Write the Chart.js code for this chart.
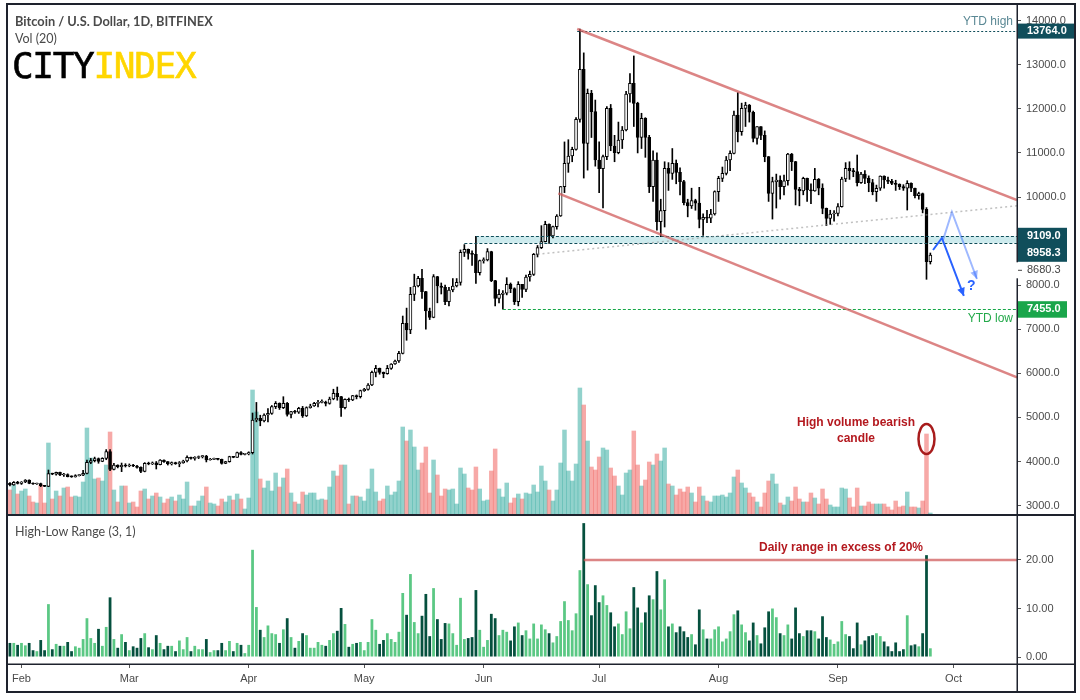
<!DOCTYPE html>
<html>
<head>
<meta charset="utf-8">
<title>Bitcoin / U.S. Dollar, 1D</title>
<script src="https://cdn.jsdelivr.net/npm/chart.js@4.4.1/dist/chart.umd.min.js"></script>
<style>
  html, body { margin: 0; padding: 0; background: #fff; }
  #wrap { position: relative; width: 1080px; height: 700px; overflow: hidden; font-family: "Liberation Sans", Arial, sans-serif; }
  #frame { position: absolute; left: 6px; top: 3px; width: 1070px; height: 690px; border: 2px solid #1e222d; box-sizing: border-box; }
  #sep { position: absolute; left: 8px; top: 514px; width: 1066px; height: 2px; background: #1e222d; }
  #main { position: absolute; left: 8px; top: 5px; }
  #lower { position: absolute; left: 8px; top: 516px; }
  .txt { position: absolute; white-space: nowrap; font-family: Lato, "Liberation Sans", sans-serif; color: #4a4a4a; }
  #title { left: 15px; top: 13px; font-size: 12.8px; font-weight: 700; }
  #vol { left: 15px; top: 31px; font-size: 12.5px; }
  #hl { left: 15px; top: 524px; font-size: 12.5px; }
  #logo { position: absolute; left: 12px; top: 46px; font-family: "DejaVu Sans Mono", monospace; font-weight: 400; font-size: 36px; letter-spacing: -1.3px; line-height: 40px; -webkit-text-stroke: 0.6px; }
  #logo .a { color: #000; }
  #logo .b { color: #ffd600; }
</style>
</head>
<body>
<div id="wrap">
  <div id="frame"></div>
  <canvas id="main" width="1066" height="509"></canvas>
  <div id="sep"></div>
  <canvas id="lower" width="1066" height="175"></canvas>
  <div class="txt" id="title">Bitcoin / U.S. Dollar, 1D, BITFINEX</div>
  <div class="txt" id="vol">Vol (20)</div>
  <div id="logo"><span class="a">CITY</span><span class="b">INDEX</span></div>
  <div class="txt" id="hl">High-Low Range (3, 1)</div>
</div>
<script>
// daily candles, 29 Jan 2019 -> 25 Sep 2019
const opens = [
  3505,3467,3528,3505,3535,3581,3505,3490,3500,3452,
  3437,3724,3712,3754,3694,3705,3656,3650,3679,3690,
  3732,3981,4019,4065,4004,4072,4223,3823,3921,3883,
  3913,3898,3921,3898,3868,3775,3959,3944,3970,3928,
  4034,3996,3944,3974,3950,3970,4012,4095,4072,4090,
  4110,4125,4034,4050,4065,4049,3959,3996,4110,4095,
  4201,4163,4170,4201,4942,4980,4920,5055,5090,5244,
  5320,5221,5320,5070,5131,5120,5206,5032,5221,5259,
  5320,5342,5350,5320,5418,5546,5471,5221,5410,5395,
  5493,5471,5607,5637,5735,6023,6114,6023,5995,6114,
  6212,6280,6454,7134,6983,7792,7981,8155,7853,7414,
  7270,8193,7981,7951,7626,7891,7981,8065,8745,8813,
  8722,8700,8284,8556,8571,8760,8102,7701,7792,7820,
  8019,7921,7626,8019,7906,8186,8246,8700,8851,8987,
  9380,9116,9328,9570,10235,10764,10931,11082,11763,12897,
  11218,12352,11936,10840,10643,10916,12012,11158,11006,11294,
  11520,12337,12579,12126,11354,11785,11354,10235,10840,9441,
  9690,10651,10538,10764,10560,10349,9872,9800,9917,9860,
  9494,9540,9520,9615,10122,10424,10537,10840,10991,11861,
  11483,12012,12088,11922,11332,11596,11400,10916,10084,10349,
  10386,10235,10370,10976,10802,10175,10140,10424,10160,10140,
  10400,10200,9744,9517,9615,9630,9781,10409,10651,10598,
  10575,10326,10522,10424,10326,10122,10198,10477,10386,10356,
  10311,10288,10235,10198,10311,10198,10030,10080,9720,8534
];
const highs = [
  3520,3545,3550,3545,3590,3585,3515,3510,3510,3460,
  3807,3735,3760,3760,3730,3720,3675,3700,3705,3800,
  4030,4070,4100,4080,4085,4270,4270,3960,3925,3965,
  3950,3945,3935,3915,3880,3975,3985,3990,4000,4045,
  4040,4000,3990,3985,4000,4030,4130,4100,4110,4125,
  4140,4140,4070,4075,4070,4055,4005,4120,4115,4215,
  4225,4180,4220,5100,5340,5050,5080,5200,5270,5360,
  5330,5470,5340,5140,5160,5230,5250,5240,5300,5340,
  5390,5400,5370,5460,5640,5690,5480,5420,5440,5500,
  5510,5620,5660,5770,6050,6180,6120,6030,6180,6220,
  6300,6500,7300,7480,7950,8250,8200,8360,7860,7480,
  8240,8200,8050,8000,7950,8150,8150,8800,8920,8820,
  8780,9109,8570,8620,8830,8770,8110,7900,7880,8170,
  8050,7940,8080,8020,8230,8320,8720,8900,9350,9450,
  9390,9340,9600,10240,11250,11300,11130,11800,13812,13270,
  12450,12420,12200,11250,10950,12050,12100,11400,11700,11600,
  12400,12800,13200,12150,11900,11800,11400,11050,11000,9950,
  10800,10780,11100,10840,10660,10380,9950,10200,9950,10220,
  9620,9700,9720,10140,10470,10680,10920,11050,11950,12368,
  12130,12150,12100,11950,11600,11600,11500,10920,10450,10520,
  10480,10500,10990,10990,10810,10220,10450,10430,10300,10650,
  10420,10300,9750,9700,9690,9850,10450,10780,10800,10650,
  10953,10560,10600,10480,10400,10270,10480,10480,10450,10400,
  10380,10300,10280,10370,10320,10200,10110,10090,9760,8730
];
const lows = [
  3445,3460,3490,3480,3520,3495,3480,3480,3430,3430,
  3430,3700,3690,3680,3660,3650,3640,3645,3670,3680,
  3720,3950,3990,3960,3995,4040,3790,3810,3855,3770,
  3875,3880,3880,3850,3745,3765,3925,3930,3830,3920,
  3980,3920,3920,3935,3880,3960,3990,4055,4030,4065,
  4080,3990,4030,4040,4035,3940,3950,3985,4085,4090,
  4150,4150,4150,4170,4900,4810,4900,4900,5070,5200,
  5180,5200,5030,4990,5090,5090,5000,5020,5210,5250,
  5240,5330,5260,5300,5400,5390,5020,5190,5360,5380,
  5420,5440,5590,5620,5720,5920,5980,5900,5980,6090,
  6200,6250,6440,6750,6900,7650,7960,7700,7000,7220,
  7260,7600,7800,7560,7530,7850,7960,8000,8650,8590,
  8450,8040,8230,8500,8550,8080,7530,7600,7455,7780,
  7830,7560,7530,7720,7850,8090,8220,8640,8830,8980,
  8950,9070,9270,9560,10100,10560,10800,11060,11700,10430,
  10610,11350,10700,10100,9750,10850,11050,10800,10980,11100,
  11500,12150,11600,11000,11100,10900,10100,9900,9250,9100,
  9320,10150,10400,10300,10050,9820,9550,9740,9700,9300,
  9130,9420,9420,9590,9900,10350,10500,10600,10980,11250,
  11400,11600,11700,11250,11200,11300,10800,9900,9500,9750,
  9950,10050,10270,10600,9820,9800,10050,9900,9850,10130,
  10050,9620,9350,9380,9450,9570,9770,10350,10400,10460,
  10250,10310,10300,10120,10050,9900,10150,10200,10300,10280,
  10150,10170,10150,9705,10120,9980,9950,9640,8133,8480
];
const closes = [
  3467,3528,3505,3535,3581,3505,3490,3500,3452,3437,
  3724,3712,3754,3694,3705,3656,3650,3679,3690,3732,
  3981,4019,4065,4004,4072,4223,3823,3921,3883,3913,
  3898,3921,3898,3868,3775,3959,3944,3970,3928,4034,
  3996,3944,3974,3950,3970,4012,4095,4072,4090,4110,
  4125,4034,4050,4065,4049,3959,3996,4110,4095,4201,
  4163,4170,4201,4942,4980,4920,5055,5090,5244,5320,
  5221,5320,5070,5131,5120,5206,5032,5221,5259,5320,
  5342,5350,5320,5418,5546,5471,5221,5410,5395,5493,
  5471,5607,5637,5735,6023,6114,6023,5995,6114,6212,
  6280,6454,7134,6983,7792,7981,8155,7853,7414,7270,
  8193,7981,7951,7626,7891,7981,8065,8745,8813,8722,
  8700,8284,8556,8571,8760,8102,7701,7792,7820,8019,
  7921,7626,8019,7906,8186,8246,8700,8851,8987,9380,
  9116,9328,9570,10235,10764,10931,11082,11763,12897,11218,
  12352,11936,10840,10643,10916,12012,11158,11006,11294,11520,
  12337,12579,12126,11354,11785,11354,10235,10840,9441,9690,
  10651,10538,10764,10560,10349,9872,9800,9917,9860,9494,
  9540,9520,9615,10122,10424,10537,10840,10991,11861,11483,
  12012,12088,11922,11332,11596,11400,10916,10084,10349,10386,
  10235,10370,10976,10802,10175,10140,10424,10160,10140,10400,
  10200,9744,9517,9615,9630,9781,10409,10651,10598,10575,
  10326,10522,10424,10326,10122,10198,10477,10386,10356,10311,
  10288,10235,10198,10311,10198,10030,10080,9720,8534,8680.3
];
// volume (relative units)
const volumes = [
  24,29,20,23,25,18,12,11,29,11,
  71,15,23,18,26,27,17,18,17,32,
  86,56,35,36,33,49,82,24,12,28,
  28,11,12,7,23,25,15,18,21,17,
  11,15,17,13,19,15,32,8,8,13,
  18,27,11,10,8,15,12,18,14,20,
  15,5,16,124,102,35,26,33,23,41,
  27,36,45,21,12,10,22,19,21,21,
  14,15,14,27,43,38,49,49,10,18,
  18,17,13,25,45,22,13,15,28,19,
  22,33,87,73,84,67,44,51,67,21,
  54,39,18,25,24,25,10,46,40,26,
  24,47,25,13,14,43,65,25,17,31,
  11,16,20,15,21,20,29,22,48,33,
  24,13,24,51,84,43,33,50,126,109,
  73,47,44,57,66,64,46,38,28,19,
  41,44,83,49,28,34,52,49,60,53,
  66,30,28,19,25,22,27,21,12,27,
  18,13,12,18,18,19,17,21,37,44,
  31,26,21,17,12,7,21,33,40,30,
  11,9,17,13,27,15,12,12,21,16,
  10,25,15,9,7,7,26,25,16,7,
  26,8,8,12,10,10,10,10,7,4,
  13,7,8,22,7,7,6,13,80,1
];
// High-Low Range (3, 1), percent
const ranges = [
  2.9,2.9,2.5,2.9,2.4,2.9,1.4,1.2,3.5,1.4,
  10.9,1.6,2.7,2.3,2.3,3.1,1.2,2.2,1.9,3.7,
  8.0,3.9,2.9,5.8,2.3,6.2,12.3,3.7,1.9,4.7,
  3.1,1.4,2.2,1.9,3.9,4.9,2.0,1.6,4.5,2.9,
  1.6,2.3,2.3,1.2,3.4,1.6,4.1,1.2,2.3,1.6,
  1.6,3.7,1.0,1.4,1.4,2.9,1.4,3.3,1.2,2.9,
  2.5,0.8,2.5,22.1,10.3,5.6,4.1,6.5,4.9,4.7,
  2.9,5.7,8.0,4.1,1.9,3.3,4.9,4.5,1.9,1.9,
  3.1,2.5,2.3,3.5,4.9,5.4,10.1,6.8,2.1,2.7,
  2.9,3.1,1.4,3.1,7.8,5.6,2.7,3.5,4.9,3.7,
  3.1,5.2,13.2,8.7,17.1,7.2,4.9,8.5,13.0,4.3,
  14.2,7.8,3.7,7.0,6.9,4.9,2.5,12.2,3.7,3.9,
  4.1,13.8,5.6,2.1,3.5,8.9,8.0,4.5,5.6,5.2,
  3.4,6.3,7.1,4.5,5.5,3.8,6.9,3.8,6.7,5.7,
  4.9,3.0,4.3,7.4,11.5,7.6,5.5,9.0,17.9,27.6,
  15.0,8.6,14.8,11.3,12.7,10.7,9.2,6.3,6.9,4.7,
  9.4,5.9,14.4,10.2,7.1,9.2,12.7,11.9,17.7,9.8,
  16.0,6.3,6.9,5.1,6.3,5.3,4.1,4.7,2.6,9.8,
  5.7,3.8,3.8,5.7,6.3,3.2,3.8,5.3,8.8,9.6,
  6.7,5.1,3.4,7.1,4.5,2.8,6.1,9.4,10.0,8.2,
  4.9,4.5,6.7,3.8,10.2,4.9,4.3,5.5,5.5,5.3,
  3.8,8.4,4.1,3.6,2.7,3.2,7.4,4.7,4.3,1.8,
  7.1,2.6,3.4,4.3,4.5,4.9,4.3,3.2,2.2,1.2,
  3.0,1.2,1.6,8.6,2.4,2.6,2.2,4.9,21.0,1.8
];

// axis ticks
const priceTicks = [3000,4000,5000,6000,7000,8000,9000,10000,11000,12000,13000,14000];
const rangeTicks = [0, 10, 20];
const monthNames = ['Jan','Feb','Mar','Apr','May','Jun','Jul','Aug','Sep','Oct','Nov','Dec'];

// drawings on the chart, as [day index, price]
const channelUpper = [[147.3, 13812], [261.5, 9930]];
const channelLower = [[142.4, 10084], [261.5, 5910]];
const trendDotted = [[137, 8700], [261.5, 9803]];
const arrowDark = [[239.7, 8798], [242.0, 9070], [247.7, 7755]];
const arrowLight = [[242.3, 9025], [244.6, 9660], [251.1, 8140]];
const questionMark = [249.6, 7975];
const zoneTop = 9109.0, zoneBottom = 8958.3;
const ytdHigh = 13764.0, ytdLow = 7455.0, lastPrice = 8680.3;
const rangeLimit = 20;

// 29 Jan 2019 plus empty days on the right
const firstDay = Date.UTC(2019, 0, 29);
const dayCount = 262;
const dates = Array.from({ length: dayCount }, (_, i) => new Date(firstDay + i * 86400000));
const labels = dates.map(d => d.toISOString().slice(0, 10));
const isMonthStart = i => dates[i] && dates[i].getUTCDate() === 1;

const upColor = (i) => closes[i] >= opens[i];
const dark = '#1e222d';
const redText = '#b4191f';
const channelColor = 'rgba(206,86,86,0.72)';

function polyline(ctx, x, y, pts) {
    ctx.beginPath();
    pts.forEach((p, k) => {
        const px = x.getPixelForValue(p[0]), py = y.getPixelForValue(p[1]);
        if (k === 0) ctx.moveTo(px, py); else ctx.lineTo(px, py);
    });
    ctx.stroke();
}

function arrowHead(ctx, x1, y1, x2, y2, size) {
    const ang = Math.atan2(y2 - y1, x2 - x1);
    ctx.beginPath();
    ctx.moveTo(x2, y2);
    ctx.lineTo(x2 - size * Math.cos(ang - 0.45), y2 - size * Math.sin(ang - 0.45));
    ctx.lineTo(x2 - size * Math.cos(ang + 0.45), y2 - size * Math.sin(ang + 0.45));
    ctx.closePath();
    ctx.fill();
}

function drawArrow(ctx, x, y, pts, color) {
    ctx.strokeStyle = color;
    ctx.fillStyle = color;
    ctx.lineWidth = 2;
    ctx.setLineDash([]);
    polyline(ctx, x, y, pts);
    const a = pts[pts.length - 2], b = pts[pts.length - 1];
    arrowHead(ctx, x.getPixelForValue(a[0]), y.getPixelForValue(a[1]),
        x.getPixelForValue(b[0]), y.getPixelForValue(b[1]), 9);
}

function hLine(ctx, x, y, fromIdx, value, right, color, dash) {
    const py = Math.round(y.getPixelForValue(value)) + 0.5;
    ctx.strokeStyle = color;
    ctx.lineWidth = 1;
    ctx.setLineDash(dash);
    ctx.beginPath();
    ctx.moveTo(x.getPixelForValue(fromIdx), py);
    ctx.lineTo(right, py);
    ctx.stroke();
}

const mainDecor = {
    id: 'mainDecor',
    beforeDatasetsDraw(chart) {
        const { ctx, chartArea: a, scales: { x, y } } = chart;
        ctx.save();
        const x0 = x.getPixelForValue(121);
        const yt = y.getPixelForValue(zoneTop), yb = y.getPixelForValue(zoneBottom);
        ctx.fillStyle = 'rgba(0,150,165,0.2)';
        ctx.fillRect(x0, yt, a.right - x0, yb - yt);
        ctx.restore();
    },
    afterDatasetsDraw(chart) {
        const { ctx, chartArea: a, scales: { x, y, vol } } = chart;
        ctx.save();
        ctx.beginPath();
        ctx.rect(a.left, a.top, a.right - a.left, a.bottom - a.top);
        ctx.clip();

        hLine(ctx, x, y, 121, zoneTop, a.right, '#0f4d5a', [3, 2]);
        hLine(ctx, x, y, 118, zoneBottom, a.right, '#0f4d5a', [3, 2]);
        hLine(ctx, x, y, 147.3, ytdHigh, a.right, '#0f4d5a', [2, 2]);
        hLine(ctx, x, y, 128, ytdLow, a.right, '#16a847', [3, 2]);

        ctx.setLineDash([2, 3]);
        ctx.strokeStyle = 'rgba(150,150,150,0.6)';
        ctx.lineWidth = 1.5;
        polyline(ctx, x, y, trendDotted);

        ctx.setLineDash([]);
        ctx.strokeStyle = channelColor;
        ctx.lineWidth = 2.5;
        polyline(ctx, x, y, channelUpper);
        polyline(ctx, x, y, channelLower);

        drawArrow(ctx, x, y, arrowLight, 'rgba(41,98,255,0.45)');
        drawArrow(ctx, x, y, arrowDark, '#2962ff');

        ctx.fillStyle = '#2962ff';
        ctx.font = 'bold 14px "Liberation Sans", Arial';
        ctx.textAlign = 'center';
        ctx.textBaseline = 'middle';
        ctx.fillText('?', x.getPixelForValue(questionMark[0]), y.getPixelForValue(questionMark[1]));

        // YTD texts
        ctx.font = '12px "Liberation Sans", Arial';
        ctx.textAlign = 'right';
        ctx.fillStyle = '#5a8894';
        ctx.fillText('YTD high', a.right - 4, y.getPixelForValue(ytdHigh) - 9);
        ctx.fillStyle = '#23a94a';
        ctx.fillText('YTD low', a.right - 4, y.getPixelForValue(ytdLow) + 9);

        // volume note
        ctx.fillStyle = redText;
        ctx.font = 'bold 12px "Liberation Sans", Arial';
        ctx.textAlign = 'center';
        ctx.fillText('High volume bearish', x.getPixelForValue(219.7), vol.getPixelForValue(91));
        ctx.fillText('candle', x.getPixelForValue(219.7), vol.getPixelForValue(75));
        ctx.strokeStyle = '#a81c1c';
        ctx.lineWidth = 2.5;
        ctx.beginPath();
        ctx.ellipse(x.getPixelForValue(238), vol.getPixelForValue(75), 8, 15, 0, 0, Math.PI * 2);
        ctx.stroke();
        ctx.restore();
    },
    afterDraw(chart) {
        const { ctx, chartArea: a, scales: { y } } = chart;
        ctx.save();
        ctx.fillStyle = dark;
        ctx.fillRect(a.right - 0.5, 0, 1.5, chart.height);

        ctx.font = 'bold 11px "Liberation Sans", Arial';
        ctx.textAlign = 'left';
        ctx.textBaseline = 'middle';
        const tx = a.right + 10;

        // YTD high label
        let py = y.getPixelForValue(ytdHigh);
        ctx.fillStyle = '#104e5b';
        ctx.fillRect(a.right + 1, py - 7.5, 56, 15);
        ctx.fillStyle = '#fff';
        ctx.fillText(ytdHigh.toFixed(1), tx, py);

        // zone labels, pushed apart like the platform does
        const y1 = y.getPixelForValue(zoneTop);
        const y2 = Math.max(y.getPixelForValue(zoneBottom), y1 + 17);
        ctx.fillStyle = '#104e5b';
        ctx.fillRect(a.right + 1, y1 - 8.5, 49, y2 - y1 + 17);
        ctx.fillStyle = '#fff';
        ctx.fillText(zoneTop.toFixed(1), tx, y1);
        ctx.fillText(zoneBottom.toFixed(1), tx, y2);

        // last price
        const y3 = Math.max(y.getPixelForValue(lastPrice), y2 + 17);
        ctx.fillStyle = '#fff';
        ctx.fillRect(a.right - 2, y3 - 8, 56, 16);
        ctx.fillStyle = '#444';
        ctx.fillRect(a.right + 1, y3 - 0.5, 4, 1);
        ctx.font = '11px "Liberation Sans", Arial';
        ctx.fillText(lastPrice.toFixed(1), tx, y3);

        // YTD low label
        py = y.getPixelForValue(ytdLow);
        ctx.fillStyle = '#1aa64b';
        ctx.fillRect(a.right + 1, py - 8, 49, 16.5);
        ctx.fillStyle = '#fff';
        ctx.font = 'bold 11px "Liberation Sans", Arial';
        ctx.fillText(ytdLow.toFixed(1), tx, py);
        ctx.restore();
    }
};

const lowerDecor = {
    id: 'lowerDecor',
    afterDatasetsDraw(chart) {
        const { ctx, chartArea: a, scales: { x, y } } = chart;
        ctx.save();
        ctx.strokeStyle = channelColor;
        ctx.lineWidth = 2.5;
        const py = y.getPixelForValue(rangeLimit);
        ctx.beginPath();
        ctx.moveTo(x.getPixelForValue(149), py);
        ctx.lineTo(a.right, py);
        ctx.stroke();
        ctx.fillStyle = redText;
        ctx.font = 'bold 12px "Liberation Sans", Arial';
        ctx.textAlign = 'center';
        ctx.textBaseline = 'middle';
        ctx.fillText('Daily range in excess of 20%', x.getPixelForValue(215.8), y.getPixelForValue(22.5));
        ctx.restore();
    },
    afterDraw(chart) {
        const { ctx, chartArea: a } = chart;
        ctx.save();
        ctx.fillStyle = dark;
        ctx.fillRect(a.right - 0.5, 0, 1.5, chart.height);
        ctx.fillRect(0, a.bottom - 0.5, chart.width, 1.5);
        ctx.restore();
    }
};

const tickFont = { family: '"Liberation Sans", Arial', size: 11 };
const noMargins = (scale) => { scale.paddingTop = 0; scale.paddingBottom = 0; scale.paddingLeft = 0; scale.paddingRight = 0; };

document.addEventListener("DOMContentLoaded", () => {
    Chart.defaults.animation = false;
    Chart.defaults.events = [];

    // price pane: candles + volume
    new Chart(document.getElementById("main"), {
        type: "bar",
        data: {
            labels: labels,
            datasets: [
                {
                    label: "Body",
                    data: opens.map((o, i) => [o, closes[i]]),
                    backgroundColor: opens.map((o, i) => upColor(i) ? "#ffffff" : "#000000"),
                    borderColor: "#000000",
                    borderWidth: 1,
                    borderSkipped: false,
                    barThickness: 3,
                    minBarLength: 1,
                    grouped: false,
                    order: 1,
                    yAxisID: "y",
                },
                {
                    label: "Wick",
                    data: lows.map((l, i) => [l, highs[i]]),
                    backgroundColor: "#000000",
                    barThickness: 1,
                    grouped: false,
                    order: 2,
                    yAxisID: "y",
                },
                {
                    label: "Volume",
                    data: volumes,
                    backgroundColor: volumes.map((v, i) => upColor(i) ? "rgba(38,166,154,0.5)" : "rgba(239,83,80,0.5)"),
                    barPercentage: 1,
                    categoryPercentage: 1,
                    grouped: false,
                    order: 3,
                    yAxisID: "vol",
                },
            ],
        },
        options: {
            responsive: false,
            layout: { padding: 0 },
            plugins: { legend: { display: false }, tooltip: { enabled: false } },
            scales: {
                x: { display: false },
                y: {
                    position: "right",
                    min: 2809,
                    max: 14356,
                    afterBuildTicks: (scale) => { scale.ticks = priceTicks.map(v => ({ value: v })); },
                    afterFit: (scale) => { scale.width = 57; noMargins(scale); },
                    ticks: { font: tickFont, color: "#4a4a4a", padding: 5, callback: (v) => Number(v).toFixed(1) },
                    grid: { drawOnChartArea: false, drawTicks: true, tickLength: 4, color: "#555" },
                    border: { display: false },
                },
                vol: { display: false, min: 0, max: 509 },
            },
        },
        plugins: [mainDecor],
    });

    // High-Low Range pane
    new Chart(document.getElementById("lower"), {
        type: "bar",
        data: {
            labels: labels,
            datasets: [{
                label: "High-Low Range",
                data: ranges,
                backgroundColor: ranges.map((r, i) => upColor(i) ? "#5bc884" : "#05503e"),
                barPercentage: 0.72,
                categoryPercentage: 1,
            }],
        },
        options: {
            responsive: false,
            layout: { padding: 0 },
            plugins: { legend: { display: false }, tooltip: { enabled: false } },
            scales: {
                x: {
                    afterFit: (scale) => { scale.height = 27; noMargins(scale); },
                    ticks: {
                        autoSkip: false, maxRotation: 0, minRotation: 0, padding: 4,
                        font: tickFont, color: "#4a4a4a",
                        callback: (v, i) => isMonthStart(i) ? monthNames[dates[i].getUTCMonth()] : "",
                    },
                    grid: {
                        offset: false, drawOnChartArea: false, drawTicks: true, tickLength: 4,
                        color: (ctx) => isMonthStart(ctx.index) ? "#555" : "rgba(0,0,0,0)",
                    },
                    border: { display: false },
                },
                y: {
                    position: "right",
                    min: -1.44,
                    max: 29.07,
                    afterBuildTicks: (scale) => { scale.ticks = rangeTicks.map(v => ({ value: v })); },
                    afterFit: (scale) => { scale.width = 57; noMargins(scale); },
                    ticks: { font: tickFont, color: "#4a4a4a", padding: 5, callback: (v) => Number(v).toFixed(2) },
                    grid: { drawOnChartArea: false, drawTicks: true, tickLength: 4, color: "#555" },
                    border: { display: false },
                },
            },
        },
        plugins: [lowerDecor],
    });
});
</script>
</body>
</html>
